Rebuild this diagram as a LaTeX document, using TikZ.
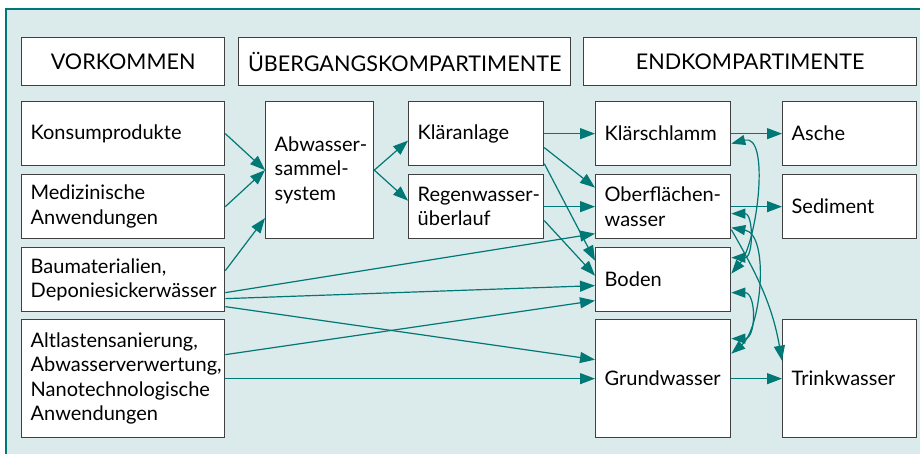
\documentclass[tikz,border=0pt]{standalone}
\usepackage{fontspec}
\setmainfont{Lato}
\usetikzlibrary{arrows.meta}

\definecolor{flowteal}{RGB}{0,120,118}
\definecolor{panelbg}{RGB}{219,234,234}
\definecolor{boxgray}{RGB}{64,64,64}

\begin{document}
\begin{tikzpicture}[x=1pt,y=1pt]

\tikzset{box/.style = {draw=boxgray, fill=white, line width=1.3pt, anchor=north west,
  inner xsep=9pt, inner ysep=0pt, align=left, text width=#1,
  font=\fontsize{20}{24.5}\selectfont}}
\tikzset{head/.style = {draw=boxgray, fill=white, line width=1.3pt, anchor=north west,
  minimum height=48pt, minimum width=#1, font=\fontsize{21.6}{24}\selectfont}}
\tikzset{arc/.style = {-{Triangle[length=15pt,width=11pt]}, draw=flowteal, line width=1.2pt}}
\tikzset{both/.style = {{Triangle[length=14pt,width=10pt]}-{Triangle[length=14pt,width=10pt]}, draw=flowteal, line width=1.2pt}}

% panel
\useasboundingbox (0,0) rectangle (920,-454);
\draw[fill=panelbg, draw=flowteal, line width=1.4pt] (6,-9) rectangle (940,-470);

% headers
\node[head=203pt] (hv) at (21,-37) {VORKOMMEN};
\node[head=332pt] (hu) at (238,-37) {ÜBERGANGSKOMPARTIMENTE};
\node[head=333pt] (he) at (583,-37) {ENDKOMPARTIMENTE};

% sources
\node[box=185pt, minimum height=64pt] (k) at (21,-101) {Konsumprodukte};
\node[box=185pt, minimum height=64pt] (m) at (21,-174) {Medizinische\\Anwendungen};
\node[box=185pt, minimum height=64pt] (b) at (21,-247) {Baumaterialien,\\Deponiesickerwässer};
\node[box=185pt, minimum height=118pt] (a) at (21,-319) {Altlastensanierung,\\Abwasserverwertung,\\Nanotechnologische\\Anwendungen};

% transfer compartments
\node[box=90pt, minimum height=137pt] (s) at (265,-101) {Abwasser\mbox{-}\\sammel\mbox{-}\\system};
\node[box=117pt, minimum height=64pt] (kl) at (408,-101) {Kläranlage};
\node[box=117pt, minimum height=64pt] (rw) at (408,-174) {Regenwasser\mbox{-}\\überlauf};

% end compartments
\node[box=117pt, minimum height=64pt] (ks) at (595,-101) {Klärschlamm};
\node[box=117pt, minimum height=64pt] (ow) at (595,-174) {Oberflächen\mbox{-}\\wasser};
\node[box=117pt, minimum height=64pt] (bo) at (595,-247) {Boden};
\node[box=117pt, minimum height=118pt] (gw) at (595,-319) {Grundwasser};
\node[box=116pt, minimum height=64pt] (as) at (782,-101) {Asche};
\node[box=116pt, minimum height=64pt] (se) at (782,-174) {Sediment};
\node[box=116pt, minimum height=118pt] (tw) at (782,-319) {Trinkwasser};

% arcs into the sewer
\draw[arc] (k.east) -- (s.west);
\draw[arc] (m.east) -- (s.west);
\draw[arc] ([yshift=9pt]b.east) -- ([yshift=-48pt]s.west);
\draw[arc] (s.east) -- ([yshift=-7pt]kl.west);
\draw[arc] (s.east) -- ([yshift=6pt]rw.west);

% arcs into the end compartments
\draw[arc] (kl.east) -- (ks.west);
\draw[arc] ([yshift=-14pt]kl.east) -- ([yshift=19pt]ow.west);
\draw[arc] ([yshift=-30pt]kl.east) -- ([yshift=19pt]bo.west);
\draw[arc] (rw.east) -- (ow.west);
\draw[arc] ([yshift=-14pt]rw.east) -- ([yshift=4pt]bo.west);
\draw[arc] ([yshift=-13pt]b.east) -- ([yshift=-27pt]ow.west);
\draw[arc] ([yshift=-19pt]b.east) -- ([yshift=-6pt]bo.west);
\draw[arc] ([yshift=-27pt]b.east) -- ([yshift=19pt]gw.west);
\draw[arc] ([yshift=24pt]a.east) -- ([yshift=-21pt]bo.west);
\draw[arc] (a.east) -- (gw.west);
\draw[arc] (ks.east) -- (as.west);
\draw[arc] (ow.east) -- (se.west);
\draw[arc] (gw.east) -- (tw.west);
\draw[arc] ([yshift=-23pt]ow.east) to[out=-60,in=100] ([yshift=18pt]tw.west);

% exchange between end compartments
\draw[both] ([yshift=-10pt]ks.east) to[out=15,in=50,looseness=0.8] ([yshift=6pt]bo.east);
\draw[both] ([yshift=-7pt]ow.east) to[out=0,in=0,looseness=1.3] ([yshift=22pt]bo.east);
\draw[both] ([yshift=-21pt]ow.east) to[out=-10,in=40,looseness=0.8] ([yshift=25pt]gw.east);
\draw[both] ([yshift=-13pt]bo.east) to[out=0,in=0,looseness=1.4] ([yshift=40pt]gw.east);

\end{tikzpicture}
\end{document}
